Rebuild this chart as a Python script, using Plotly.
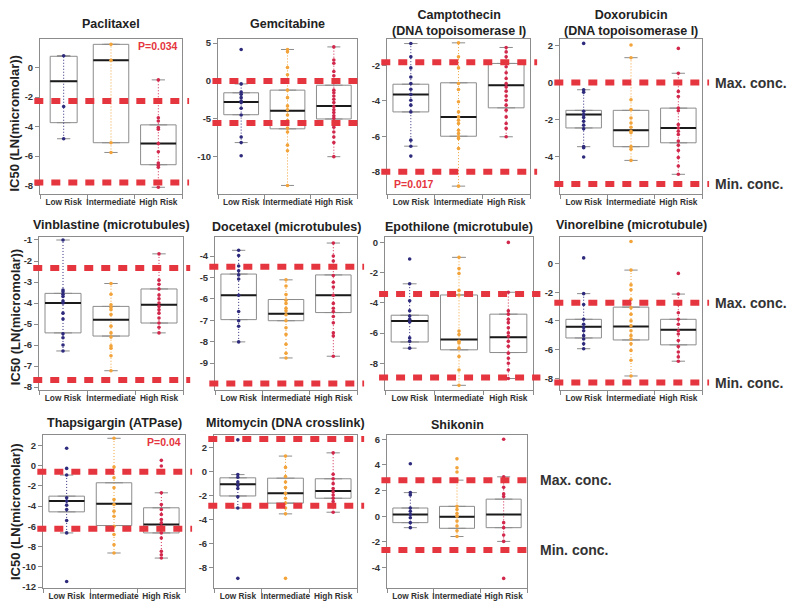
import plotly.graph_objects as go

GROUPS = ["Low Risk", "Intermediate", "High Risk"]
COLORS = ["#2e2b7c", "#f2a43a", "#d1284c"]

# ---------------- data (IC50, LN(micromolar)) ----------------
paclitaxel_low = [0.81, -2.63, -4.82]
paclitaxel_int = [1.58, 0.5, -5.09, -5.75]
paclitaxel_high = [-0.83, -3.4, -3.62, -4.06, -4.17, -5.15, -5.7, -6.47, -6.62, -6.75, -8.11]
paclitaxel_q1 = [-3.73, -5.09, -6.58]
paclitaxel_med = [-0.92, 0.5, -5.15]
paclitaxel_q3 = [0.77, 1.58, -3.88]
paclitaxel_lo = [-4.82, -5.75, -8.11]
paclitaxel_hi = [0.81, 1.58, -0.83]
paclitaxel_conc = [-2.26, -7.78]

gemcitabine_low = [4.16, -0.39, -1.47, -1.77, -2.2, -2.64, -2.86, -3.6, -4.5, -7.4, -8.14, -9.87]
gemcitabine_int = [4.16, 3.85, 1.77, 0.82, -1.21, -2.2, -3.29, -3.81, -4.5, -5.24, -5.45, -6.23, -6.75, -8.48, -9.22, -13.8]
gemcitabine_high = [4.5, 2.77, 2.34, 1.26, 0.69, -1.21, -1.56, -1.99, -2.42, -2.86, -3.38, -3.81, -4.16, -4.59, -4.94, -5.45, -6.1, -6.75, -7.4, -8.14, -10.0]
gemcitabine_q1 = [-4.46, -6.32, -5.02]
gemcitabine_med = [-2.77, -3.94, -3.29]
gemcitabine_q3 = [-1.56, -1.21, -0.56]
gemcitabine_lo = [-8.14, -13.8, -10.0]
gemcitabine_hi = [-0.39, 4.16, 4.5]
gemcitabine_conc = [0.0, -5.54]

camptothecin_low = [-0.78, -1.53, -2.15, -2.66, -3.03, -3.35, -3.65, -3.97, -4.25, -4.63, -6.22, -6.56, -7.12]
camptothecin_int = [-0.74, -1.53, -2.15, -3.03, -3.37, -4.06, -4.63, -4.91, -5.1, -5.28, -5.66, -5.85, -6.03, -6.13, -6.69, -8.81]
camptothecin_high = [-1.0, -1.25, -1.53, -1.9, -2.09, -2.43, -2.75, -3.03, -3.22, -3.46, -3.73, -3.97, -4.25, -4.53, -4.91, -5.28, -5.56, -6.03]
camptothecin_q1 = [-4.63, -6.0, -4.4]
camptothecin_med = [-3.65, -4.91, -3.13]
camptothecin_q3 = [-3.07, -2.99, -1.9]
camptothecin_lo = [-6.56, -8.81, -6.03]
camptothecin_hi = [-0.78, -0.74, -1.0]
camptothecin_conc = [-1.83, -8.0]

doxorubicin_low = [2.11, -0.39, -0.52, -1.55, -1.73, -1.88, -2.09, -2.3, -2.5, -3.46, -3.52, -4.02]
doxorubicin_int = [2.02, 1.34, -0.93, -1.46, -1.91, -2.18, -2.41, -2.63, -2.71, -3.46, -3.6, -4.2]
doxorubicin_high = [1.84, 0.5, -0.48, -0.75, -1.38, -1.52, -2.27, -2.45, -2.63, -2.8, -3.16, -3.38, -3.66, -4.05, -4.5, -4.95]
doxorubicin_q1 = [-2.45, -3.46, -3.25]
doxorubicin_med = [-1.73, -2.57, -2.45]
doxorubicin_q3 = [-1.5, -1.5, -1.38]
doxorubicin_lo = [-3.46, -4.2, -4.95]
doxorubicin_hi = [-0.39, 1.34, 0.5]
doxorubicin_conc = [0.0, -5.48]

vinblastine_low = [-1.0, -3.38, -3.46, -3.58, -3.69, -3.9, -4.0, -4.48, -4.76, -5.46, -5.65, -6.0, -6.28]
vinblastine_int = [-3.07, -3.58, -4.08, -4.21, -4.32, -4.55, -5.1, -5.42, -5.62, -6.04, -6.15, -6.51, -7.22]
vinblastine_high = [-1.66, -2.91, -3.11, -3.33, -3.62, -3.8, -4.0, -4.16, -4.32, -4.48, -4.71, -4.95, -5.15, -5.42]
vinblastine_q1 = [-5.42, -5.57, -4.95]
vinblastine_med = [-4.0, -4.79, -4.08]
vinblastine_q3 = [-3.54, -4.16, -3.33]
vinblastine_lo = [-6.28, -7.22, -5.42]
vinblastine_hi = [-1.0, -3.07, -1.66]
vinblastine_conc = [-2.33, -7.66]

docetaxel_low = [-3.73, -3.97, -4.46, -4.69, -4.88, -5.07, -5.83, -6.59, -7.02, -7.28, -8.01]
docetaxel_int = [-5.11, -5.4, -5.8, -6.06, -6.21, -6.44, -6.56, -6.74, -7.02, -7.35, -7.66, -8.12, -8.54, -8.76]
docetaxel_high = [-3.39, -4.0, -4.23, -4.53, -4.91, -5.22, -5.45, -5.83, -6.21, -6.44, -6.59, -6.82, -7.12, -7.58, -7.73, -8.68]
docetaxel_q1 = [-6.97, -7.02, -6.64]
docetaxel_med = [-5.83, -6.7, -5.83]
docetaxel_q3 = [-4.84, -6.03, -4.88]
docetaxel_lo = [-8.01, -8.76, -8.68]
docetaxel_hi = [-3.73, -5.11, -3.39]
docetaxel_conc = [-4.5, -9.95]

epothilone_low = [-1.1, -2.74, -3.86, -4.53, -4.87, -5.09, -5.27, -6.32, -6.55, -7.0]
epothilone_int = [-0.99, -1.73, -2.06, -3.18, -3.48, -5.87, -6.1, -6.55, -6.66, -7.0, -7.56, -8.45, -9.46]
epothilone_high = [0.0, -3.3, -4.53, -4.75, -5.09, -5.31, -5.65, -5.99, -6.21, -6.55, -6.88, -7.33, -7.67, -8.0, -8.45, -9.01]
epothilone_q1 = [-6.59, -7.11, -7.29]
epothilone_med = [-5.2, -6.43, -6.28]
epothilone_q3 = [-4.82, -3.48, -4.75]
epothilone_lo = [-7.0, -9.46, -9.01]
epothilone_hi = [-2.74, -0.99, -3.3]
epothilone_conc = [-3.41, -8.95]

vinorelbine_low = [0.39, -2.1, -2.86, -3.89, -4.23, -4.46, -4.69, -5.03, -5.26, -5.6, -5.94]
vinorelbine_int = [1.53, -0.46, -1.49, -1.83, -2.51, -3.09, -3.54, -4.0, -4.34, -4.69, -5.03, -5.26, -5.6, -6.06, -6.74, -7.84]
vinorelbine_high = [-0.69, -2.13, -2.86, -3.43, -3.89, -4.23, -4.69, -4.91, -5.37, -5.78, -6.17, -6.51, -6.81]
vinorelbine_q1 = [-5.19, -5.33, -5.67]
vinorelbine_med = [-4.41, -4.39, -4.62]
vinorelbine_q3 = [-3.89, -3.04, -3.89]
vinorelbine_lo = [-5.94, -7.84, -6.81]
vinorelbine_hi = [-2.1, -0.46, -2.13]
vinorelbine_conc = [-2.74, -8.3]

thapsigargin_low = [1.7, -0.28, -0.94, -3.18, -3.51, -3.91, -4.34, -5.43, -6.65, -11.44]
thapsigargin_int = [2.69, -0.15, -1.2, -2.19, -3.35, -3.84, -4.5, -5.0, -5.99, -6.81, -7.81, -8.63]
thapsigargin_high = [0.51, -0.05, -2.69, -3.84, -4.34, -4.83, -5.33, -5.66, -5.99, -6.32, -6.65, -7.15, -8.47, -8.8, -9.13]
thapsigargin_q1 = [-4.57, -5.92, -6.65]
thapsigargin_med = [-3.51, -3.78, -5.82]
thapsigargin_q3 = [-3.02, -1.7, -4.17]
thapsigargin_lo = [-6.65, -8.63, -9.13]
thapsigargin_hi = [-0.94, 2.69, -2.69]
thapsigargin_conc = [-0.61, -6.25]

mitomycin_low = [2.68, -0.23, -0.45, -0.85, -1.13, -1.4, -2.08, -3.03, -8.92]
mitomycin_int = [1.32, 0.37, -0.39, -0.85, -1.32, -1.8, -2.21, -2.62, -3.03, -3.52, -8.92]
mitomycin_high = [1.59, -0.2, -0.58, -0.99, -1.4, -1.67, -1.94, -2.21, -2.48, -2.76, -3.38]
mitomycin_q1 = [-2.02, -2.62, -2.21]
mitomycin_med = [-1.04, -1.8, -1.61]
mitomycin_q3 = [-0.5, -0.53, -0.58]
mitomycin_lo = [-3.03, -3.52, -3.38]
mitomycin_hi = [-0.23, 1.32, 1.59]
mitomycin_conc = [2.76, -2.84]

shikonin_low = [4.09, 1.84, 1.66, 0.64, 0.39, 0.13, -0.12, -0.5, -0.89]
shikonin_int = [4.47, 3.78, 3.45, 2.81, 0.77, 0.52, 0.21, 0.0, -0.38, -0.76, -1.14, -1.58]
shikonin_high = [6.0, 3.07, 2.25, 1.74, 1.54, -0.5, -0.89, -1.47, -1.96, -4.84]
shikonin_q1 = [-0.5, -0.94, -0.89]
shikonin_med = [0.13, -0.05, 0.13]
shikonin_q3 = [0.64, 0.77, 1.33]
shikonin_lo = [-0.89, -1.58, -1.96]
shikonin_hi = [1.84, 2.81, 3.07]
shikonin_conc = [2.81, -2.62]

TITLES = ["Paclitaxel", "Gemcitabine", "Camptothecin<br>(DNA topoisomerase I)",
          "Doxorubicin<br>(DNA topoisomerase I)", "Vinblastine (microtubules)",
          "Docetaxel (microtubules)", "Epothilone (microtubule)", "Vinorelbine (microtubule)",
          "Thapsigargin (ATPase)", "Mitomycin (DNA crosslink)", "Shikonin"]
P_VALUES = {1: "P=0.034", 3: "P=0.017", 9: "P=0.04"}

drugs = []
for name in ["paclitaxel", "gemcitabine", "camptothecin", "doxorubicin", "vinblastine",
             "docetaxel", "epothilone", "vinorelbine", "thapsigargin", "mitomycin", "shikonin"]:
    g = globals()
    drugs.append(dict(
        pts=[g[name + "_low"], g[name + "_int"], g[name + "_high"]],
        q1=g[name + "_q1"], med=g[name + "_med"], q3=g[name + "_q3"],
        lo=g[name + "_lo"], hi=g[name + "_hi"], conc=g[name + "_conc"]))

# ---------------- layout (pixel frames) ----------------
W, H = 794, 605
FRAMES = [(40, 182, 36, 193), (218, 357, 36, 193), (387, 530, 36, 193), (560, 702, 36, 193),
          (39, 183, 237, 392), (215, 357, 237, 392), (385, 533, 237, 392), (560, 702, 237, 392),
          (43, 185, 437, 592), (214, 357, 437, 592), (387, 527, 437, 592)]
YRANGES = [(-8.55, 1.97), (-14.9, 5.6), (-9.24, -0.5), (-6.0, 2.37),
           (-8.16, -0.87), (-10.28, -3.12), (-9.8, 0.34), (-8.85, 1.83),
           (-12.1, 3.02), (-9.74, 3.09), (-5.6, 6.33)]
YTICKS = [list(range(-8, 1, 2)), [-10, -5, 0, 5], [-8, -6, -4, -2], [-4, -2, 0, 2],
          list(range(-8, 0)), list(range(-9, -3)), list(range(-8, 1, 2)), list(range(-8, 1, 2)),
          list(range(-12, 3, 2)), list(range(-8, 3, 2)), list(range(-4, 7, 2))]
TITLE_Y = [21, 21, 20, 20, 225, 227, 227, 225, 425, 425, 427]
CONC_LABEL_PANELS = [4, 8, 11]

FONT = "Liberation Sans, Arial, sans-serif"
BOX_LINE = "#8c8c8c"
RED = "#e5353e"

fig = go.Figure()
layout = dict(width=W, height=H, margin=dict(l=0, r=0, t=0, b=0),
              paper_bgcolor="white", plot_bgcolor="white", showlegend=False)
annotations = []
shapes = []

for k, d in enumerate(drugs):
    n = k + 1
    xa = "x" if n == 1 else f"x{n}"
    ya = "y" if n == 1 else f"y{n}"
    x0, x1, yt, yb = FRAMES[k]
    bw = 0.57 if n == 1 else 0.75
    for i in range(3):
        w = bw if i == 0 else 0.75
        fig.add_trace(go.Box(x=[i], q1=[d["q1"][i]], median=[d["med"][i]], q3=[d["q3"][i]],
                             lowerfence=[d["q1"][i]], upperfence=[d["q3"][i]], width=w,
                             fillcolor="white", line=dict(color=BOX_LINE, width=1),
                             boxpoints=False, xaxis=xa, yaxis=ya, hoverinfo="skip"))
        fig.add_trace(go.Scatter(x=[i, i], y=[d["lo"][i], d["hi"][i]], mode="lines",
                                 line=dict(color=COLORS[i], width=1, dash="1px,2px"),
                                 xaxis=xa, yaxis=ya, hoverinfo="skip"))
        fig.add_trace(go.Scatter(x=[i - 0.14, i + 0.14, None, i - 0.14, i + 0.14],
                                 y=[d["lo"][i], d["lo"][i], None, d["hi"][i], d["hi"][i]],
                                 mode="lines", line=dict(color=BOX_LINE, width=1),
                                 xaxis=xa, yaxis=ya, hoverinfo="skip"))
        fig.add_trace(go.Scatter(x=[i - w / 2, i + w / 2], y=[d["med"][i], d["med"][i]],
                                 mode="lines", line=dict(color="#1a1a1a", width=2),
                                 xaxis=xa, yaxis=ya, hoverinfo="skip"))
        fig.add_trace(go.Scatter(x=[i] * len(d["pts"][i]), y=d["pts"][i], mode="markers",
                                 marker=dict(color=COLORS[i], size=3.6),
                                 xaxis=xa, yaxis=ya, hoverinfo="skip"))

    xkey = "xaxis" if n == 1 else f"xaxis{n}"
    ykey = "yaxis" if n == 1 else f"yaxis{n}"
    layout[xkey] = dict(domain=[x0 / W, x1 / W], anchor=ya, range=[-0.5, 2.5],
                        tickvals=[0, 1, 2], ticktext=GROUPS, ticks="outside", ticklen=0,
                        tickangle=0,
                        minor=dict(tick0=-0.5, dtick=1, ticks="outside", ticklen=4,
                                   tickcolor=BOX_LINE, showgrid=False),
                        showline=True, mirror=True, linecolor=BOX_LINE, linewidth=1,
                        showgrid=False, zeroline=False,
                        tickfont=dict(family=FONT, size=8.3, color="#333", weight="bold"))
    layout[ykey] = dict(domain=[1 - yb / H, 1 - yt / H], anchor=xa, range=list(YRANGES[k]),
                        tickvals=YTICKS[k], ticktext=[str(v) for v in YTICKS[k]],
                        ticks="outside", ticklen=4, tickcolor=BOX_LINE,
                        showline=True, mirror=True, linecolor=BOX_LINE, linewidth=1,
                        showgrid=False, zeroline=False,
                        tickfont=dict(family=FONT, size=9.5, color="#333", weight="bold"))

    for c in d["conc"]:
        shapes.append(dict(type="line", xref=f"{xa} domain", yref=ya, x0=-0.04, x1=1.05,
                           y0=c, y1=c, line=dict(color=RED, width=6, dash="9px,8px"),
                           layer="above"))

    annotations.append(dict(text=f"<b>{TITLES[k]}</b>", xref="paper", yref="paper",
                            x=(x0 + x1) / 2 / W, y=1 - TITLE_Y[k] / H, xanchor="center",
                            yanchor="middle", showarrow=False,
                            font=dict(family=FONT, size=12.5, color="#222")))
    if n in P_VALUES:
        if n == 3:
            annotations.append(dict(text=f"<b>{P_VALUES[n]}</b>", xref="paper", yref="paper",
                                    x=(x0 + 5) / W, y=1 - (yb - 10) / H, xanchor="left",
                                    yanchor="middle", showarrow=False,
                                    font=dict(family=FONT, size=10.5, color=RED)))
        else:
            annotations.append(dict(text=f"<b>{P_VALUES[n]}</b>", xref="paper", yref="paper",
                                    x=(x1 - 2) / W, y=1 - (yt + 7) / H, xanchor="right",
                                    yanchor="middle", showarrow=False,
                                    font=dict(family=FONT, size=10.5, color=RED)))
    if n in CONC_LABEL_PANELS:
        for c, lab in zip(d["conc"], ["Max. conc.", "Min. conc."]):
            annotations.append(dict(text=f"<b>{lab}</b>", xref=f"{xa} domain", yref=ya,
                                    x=1 + 11 / (x1 - x0), y=c, xanchor="left", yanchor="middle",
                                    showarrow=False,
                                    font=dict(family=FONT, size=14, color="#333")))

for yc in [122, 318, 515]:
    annotations.append(dict(text="<b>IC50 (LN(micromolar))</b>", xref="paper", yref="paper",
                            x=15 / W, y=1 - yc / H, xanchor="center", yanchor="middle",
                            textangle=-90, showarrow=False,
                            font=dict(family=FONT, size=13, color="#222")))

layout["annotations"] = annotations
layout["shapes"] = shapes
fig.update_layout(**layout)
fig.write_html("out.html")
